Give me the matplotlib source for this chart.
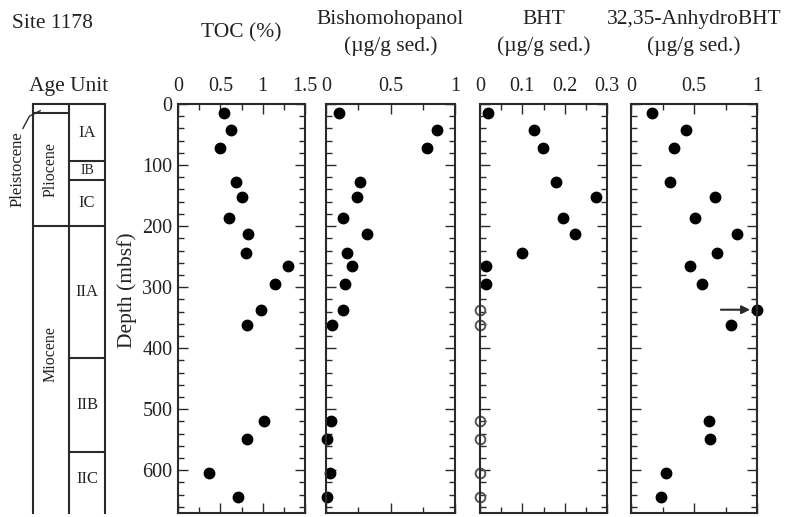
import numpy as np
import matplotlib
matplotlib.use('Agg')
import matplotlib.pyplot as plt
from matplotlib.ticker import MultipleLocator, FuncFormatter

plt.rcParams['font.family'] = ['Liberation Serif', 'DejaVu Serif']
plt.rcParams['text.color'] = '#222222'

# sample depths (mbsf), shared by all four records
depth = [14, 42, 72, 128, 152, 186, 213, 244, 266, 295, 337, 362, 519, 549, 604, 643]

toc = [0.54, 0.63, 0.50, 0.69, 0.75, 0.60, 0.83, 0.80, 1.30, 1.14, 0.98, 0.81, 1.01, 0.82, 0.37, 0.71]
bishomo = [0.10, 0.86, 0.78, 0.26, 0.24, 0.13, 0.32, 0.16, 0.20, 0.15, 0.13, 0.05, 0.04, 0.01, 0.03, 0.01]
bht = [0.019, 0.127, 0.148, 0.179, 0.274, 0.197, 0.224, 0.100, 0.014, 0.014, 0, 0, 0, 0, 0, 0]
bht_detected = [1, 1, 1, 1, 1, 1, 1, 1, 1, 1, 0, 0, 0, 0, 0, 0]
anhydro = [0.17, 0.44, 0.34, 0.31, 0.67, 0.51, 0.84, 0.68, 0.47, 0.56, 1.0, 0.79, 0.62, 0.63, 0.28, 0.24]
anhydro_offscale = [0, 0, 0, 0, 0, 0, 0, 0, 0, 0, 1, 0, 0, 0, 0, 0]

titles = ['TOC (%)', 'Bishomohopanol\n(\u00b5g/g sed.)', 'BHT\n(\u00b5g/g sed.)',
          '32,35-AnhydroBHT\n(\u00b5g/g sed.)']
xmax = [1.5, 1.0, 0.3, 1.0]
xmajor = [0.5, 0.5, 0.1, 0.5]
xminor = [0.25, 0.25, 0.05, 0.25]

# lithology / age column
ages = ['Pliocene', 'Miocene']
age_tops = [15, 200]
age_label_depth = [107, 410]
units = ['IA', 'IB', 'IC', 'IIA', 'IIB', 'IIC']
unit_tops = [0, 94, 125, 200, 416, 570]

DMAX = 670
W, H = 795, 517
ink = '#2a2a2a'
fs = 15.5

fig = plt.figure(figsize=(W / 100, H / 100), dpi=100)

def px_axes(x0, x1, y0=104, y1=513):
	return fig.add_axes([x0 / W, 1 - y1 / H, (x1 - x0) / W, (y1 - y0) / H])

lefts = [178, 326, 480, 631]
rights = [305, 455, 607, 757]
series = [toc, bishomo, bht, anhydro]

axes = []
for i in range(4):
	ax = px_axes(lefts[i], rights[i])
	ax.set_xlim(0, xmax[i])
	ax.set_ylim(DMAX, 0)
	ax.xaxis.set_major_locator(MultipleLocator(xmajor[i]))
	ax.xaxis.set_minor_locator(MultipleLocator(xminor[i]))
	ax.xaxis.set_major_formatter(FuncFormatter(lambda v, p: '%g' % round(v, 3)))
	ax.yaxis.set_major_locator(MultipleLocator(100))
	ax.yaxis.set_minor_locator(MultipleLocator(20))
	ax.tick_params(which='both', direction='in', top=True, bottom=True, left=True, right=True,
				   labeltop=True, labelbottom=False, labelleft=(i == 0), color=ink,
				   labelsize=14.5, labelcolor='#222222', width=1.0)
	ax.tick_params(which='major', length=7, pad=4)
	ax.tick_params(which='minor', length=4)
	ax.tick_params(axis='x', pad=6)
	for s in ax.spines.values():
		s.set_color(ink)
		s.set_linewidth(1.5)
	fig.text((lefts[i] + rights[i]) / 2 / W, 1 - 33 / H, titles[i], ha='center', va='center',
			 fontsize=fs, linespacing=1.5)
	axes.append(ax)

ms = 7.5
for i, ax in enumerate(axes):
	if i == 2:
		x = np.array(bht)
		det = np.array(bht_detected, dtype=bool)
		d = np.array(depth)
		ax.plot(x[det], d[det], 'o', color='black', ms=ms, clip_on=False)
		# not detected
		ax.plot(x[~det], d[~det], 'o', mfc='none', mec='#555555', mew=1.4, ms=ms - 0.5, clip_on=False)
	else:
		ax.plot(series[i], depth, 'o', color='black', ms=ms, clip_on=False)

# off-scale anhydroBHT sample
for v, d, off in zip(anhydro, depth, anhydro_offscale):
	if off:
		axes[3].annotate('', xy=(v, d), xytext=(-26, 0), textcoords='offset points',
						 arrowprops=dict(arrowstyle='-|>', color=ink, lw=1.5, mutation_scale=12,
										 shrinkA=0, shrinkB=5))

fig.text(127 / W, 1 - 290 / H, 'Depth (mbsf)', rotation=90, ha='center', va='center', fontsize=fs)
fig.text(12 / W, 1 - 23 / H, 'Site 1178', ha='left', va='center', fontsize=fs)
fig.text(69 / W, 1 - 87 / H, 'Age Unit', ha='center', va='center', fontsize=fs)

# stratigraphic column
sx = px_axes(33, 105)
sx.set_xlim(0, 2)
sx.set_ylim(DMAX, 0)
sx.axis('off')
lw = 1.5
for xv in [0, 1, 2]:
	sx.plot([xv, xv], [0, DMAX], color=ink, lw=lw, clip_on=False)
sx.plot([0, 2], [0, 0], color=ink, lw=lw, clip_on=False)
sx.plot([0, 1], [age_tops[0], age_tops[0]], color=ink, lw=lw)
sx.plot([0, 1], [age_tops[1], age_tops[1]], color=ink, lw=lw)
for t in unit_tops[1:]:
	sx.plot([1, 2], [t, t], color=ink, lw=lw)
for i, name in enumerate(ages):
	sx.text(0.5, age_label_depth[i], name, rotation=90, ha='center', va='center', fontsize=11.5)
bounds = unit_tops + [DMAX]
for i, name in enumerate(units):
	mid = (bounds[i] + bounds[i + 1]) / 2
	if name == 'IIC':
		mid = 615
	sx.text(1.5, mid, name, ha='center', va='center', fontsize=12 if name != 'IB' else 10)
sx.text(-0.42, 106, 'Pleistocene', rotation=90, ha='center', va='center', fontsize=12, clip_on=False)
sx.plot([-0.28, -0.1, 0.2], [40, 20, 11], color=ink, lw=1.0, clip_on=False)

fig.savefig('out.png', dpi=100)
